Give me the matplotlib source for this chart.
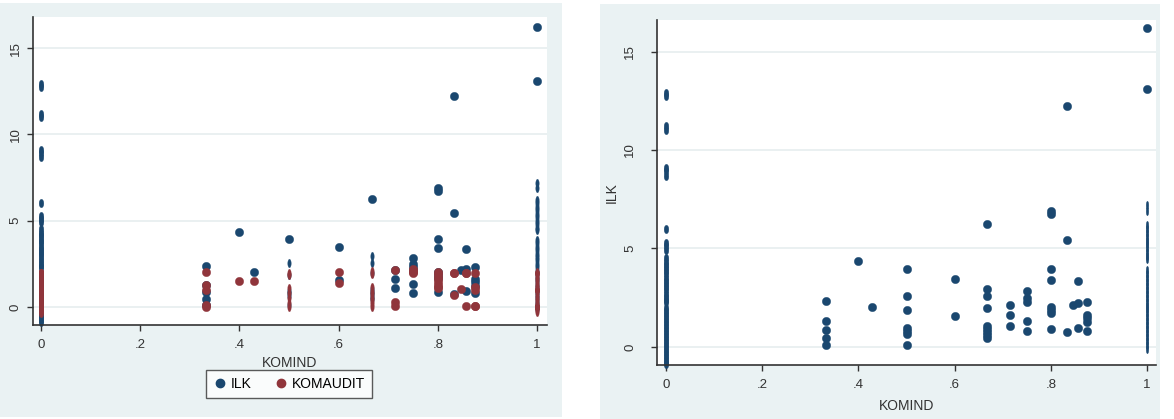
import numpy as np
import matplotlib
matplotlib.use("Agg")
import matplotlib.pyplot as plt
from matplotlib.path import Path
from matplotlib.transforms import Affine2D
from matplotlib.patches import Rectangle
from matplotlib.lines import Line2D

plt.rcParams["font.family"] = ["Liberation Sans", "DejaVu Sans"]
plt.rcParams["font.size"] = 10

# ILK values by KOMIND level
ILK = {
    0: [12.9, 12.75, 11.2, 11.0, 9.1, 8.95, 8.7, 6.0, 5.3, 5.1, 4.9, 4.5, 4.3, 4.15,
        4.0, 3.85, 3.7, 3.5, 3.35, 3.2, 3.05, 2.9, 2.7, 2.55, 2.4, 2.3, 1.95, 1.8,
        1.65, 1.5, 1.35, 1.2, 1.05, 0.9, 0.75, 0.6, 0.45, 0.3, 0.15, 0.0, -0.15,
        -0.3, -0.45, -0.6, -0.75, -0.85],
    1 / 3: [2.35, 1.29, 0.86, 0.47, 0.09],
    0.4: [4.34],
    3 / 7: [2.02],
    0.5: [3.97, 2.58, 1.87, 0.95, 0.8, 0.65, 0.12],
    0.6: [3.47, 1.58],
    2 / 3: [6.24, 2.93, 2.56, 1.98, 1.05, 0.9, 0.75, 0.6, 0.45],
    5 / 7: [2.13, 1.61, 1.08],
    0.75: [2.86, 2.47, 2.3, 1.32, 0.81],
    0.8: [6.9, 6.75, 3.97, 3.41, 2.05, 1.85, 1.7, 0.9],
    5 / 6: [12.24, 5.44, 0.78],
    11 / 13: [2.12],
    6 / 7: [3.34, 2.22, 0.95],
    7 / 8: [2.3, 1.63, 1.46, 1.24, 0.81],
    1: [16.2, 13.1, 7.2, 6.9, 6.2, 6.0, 5.8, 5.6, 5.4, 5.2, 5.0, 4.8, 4.6, 4.45,
        3.9, 3.7, 3.5, 3.3, 3.1, 2.9, 2.7, 2.5, 2.3, 2.1, 1.9, 1.7, 1.5, 1.3, 1.1,
        0.9, 0.7, 0.5, 0.3, 0.1, -0.1],
}

# KOMAUDIT values by KOMIND level
KOMAUDIT = {
    0: [2.0, 1.85, 1.7, 1.55, 1.4, 1.25, 1.1, 0.95, 0.8, 0.65, 0.5, 0.35, 0.2, 0.05,
        -0.1, -0.25, -0.35, 0.0, 0.0, 0.0, 0.0, 0.0, 1.0, 1.0, 1.0, 1.0, 0.0, 0.0,
        0.0, 0.0, 2.0, 2.0, 2.0, 0.0, 0.0, 1.0, 1.0, 0.0, 0.0, 0.0, 0.0, 0.0, 1.0,
        1.0, 0.0, 0.0],
    1 / 3: [2.05, 1.25, 1.0, 0.1, 0.0],
    0.4: [1.52],
    3 / 7: [1.52],
    0.5: [2.0, 1.85, 1.1, 0.8, 0.5, 0.25, 0.0],
    0.6: [2.04, 1.4],
    2 / 3: [2.1, 1.9, 1.15, 0.95, 0.75, 0.55, 0.35, 0.15, 0.0],
    5 / 7: [2.14, 0.3, 0.05],
    0.75: [2.2, 2.1, 2.05, 2.0, 2.15],
    0.8: [2.05, 1.9, 1.75, 1.6, 1.45, 1.3, 1.15, 1.08],
    5 / 6: [1.95, 0.69, 2.0],
    11 / 13: [1.02],
    6 / 7: [1.95, 0.06, 2.0],
    7 / 8: [0.06, 1.18, 1.0, 2.0, 0.05],
    1: [2.04, 1.9, 1.75, 1.6, 1.45, 1.3, 1.15, 1.0, 0.85, 0.7, 0.55, 0.4, 0.25, 0.1,
        -0.05, -0.2, -0.27, 0.0, 0.0, 1.0, 1.0, 2.0, 2.0, 0.0, 1.0, 0.0, 0.0, 1.0,
        2.0, 0.0, 0.0, 1.0, 0.0, 0.0, 0.0],
}

X_TICKS = [0, 0.2, 0.4, 0.6, 0.8, 1]
X_LABELS = ["0", ".2", ".4", ".6", ".8", "1"]
Y_TICKS = [0, 5, 10, 15]

BLUE = "#1a476f"
RED = "#90353b"
BG = "#eaf2f3"
GRID = "#e6edef"
MS = 6.0


def squeezed(ratio):
    return Path.unit_circle().transformed(Affine2D().scale(ratio, 1.0))


def flat(d):
    x = np.concatenate([np.full(len(v), k, dtype=float) for k, v in d.items()])
    y = np.concatenate([np.asarray(v, dtype=float) for v in d.values()])
    return x, y


def draw(ax, x, y, color, cols):
    # dense columns get squeezed markers, like the original rendering
    # cols: list of (komind level, upper y limit, width ratio)
    done = np.zeros(len(x), dtype=bool)
    for c, top, ratio in cols:
        m = np.isclose(x, c) & (y < top)
        ax.plot(x[m], y[m], ls="none", marker=squeezed(ratio), ms=MS, color=color,
                mew=0.3, clip_on=False)
        done |= m
    ax.plot(x[~done], y[~done], ls="none", marker="o", ms=MS, color=color,
            mec=color, mew=0.3, clip_on=False)


def style(ax, xlim, ylim, ypad):
    ax.set_xlim(*xlim)
    ax.set_ylim(*ylim)
    ax.set_xticks(X_TICKS)
    ax.set_xticklabels(X_LABELS)
    ax.set_yticks(Y_TICKS)
    ax.tick_params(axis="y", labelrotation=90, pad=ypad, length=4, width=1,
                   color="#333333", labelsize=9.5, labelcolor="#333333")
    ax.tick_params(axis="x", pad=6, length=4, width=1, color="#333333",
                   labelsize=9.5, labelcolor="#333333")
    for lab in ax.get_yticklabels():
        lab.set_va("center")
    ax.spines["top"].set_visible(False)
    ax.spines["right"].set_visible(False)
    for s in ("left", "bottom"):
        ax.spines[s].set_color("#333333")
        ax.spines[s].set_linewidth(1.2)
    ax.grid(axis="y", color=GRID, lw=1.2)
    ax.set_axisbelow(True)
    ax.set_facecolor("white")


W, H = 1174, 419
fig = plt.figure(figsize=(W / 100, H / 100), dpi=100)
fig.patch.set_facecolor("white")
fig.patches.append(Rectangle((0, 2 / H), 562 / W, 414 / H, transform=fig.transFigure,
                             facecolor=BG, edgecolor="none", zorder=-5))
fig.patches.append(Rectangle((600 / W, 0), 560 / W, 415 / H, transform=fig.transFigure,
                             facecolor=BG, edgecolor="none", zorder=-5))

ilk_x, ilk_y = flat(ILK)
aud_x, aud_y = flat(KOMAUDIT)

# left panel: ILK and KOMAUDIT
ax1 = fig.add_axes([33 / W, (H - 325) / H, 514 / W, 308 / H])
style(ax1, (-0.016, 1.02), (-1.04, 16.8), ypad=4)
left_cols = [(0, 99, 0.55), (0.5, 3.5, 0.4), (2 / 3, 3.5, 0.4), (1, 10, 0.4)]
draw(ax1, ilk_x, ilk_y, BLUE, left_cols)
draw(ax1, aud_x, aud_y, RED, left_cols)
ax1.set_xlabel("KOMIND", fontsize=10, color="#333333", labelpad=4)
handles = [Line2D([], [], ls="none", marker="o", ms=MS, color=BLUE),
           Line2D([], [], ls="none", marker="o", ms=MS, color=RED)]
leg = fig.legend(handles, ["ILK", "KOMAUDIT"], loc="center", ncol=2,
                 bbox_to_anchor=(289 / W, 1 - 384 / H), frameon=True,
                 fancybox=False, edgecolor="#333333", fontsize=10,
                 handletextpad=0.3, columnspacing=1.6, borderpad=0.5,
                 handlelength=1.0)
leg.get_frame().set_linewidth(1.0)

# right panel: ILK only
ax2 = fig.add_axes([657 / W, (H - 365) / H, 499 / W, 345 / H])
style(ax2, (-0.0187, 1.0187), (-0.92, 16.6), ypad=11)
draw(ax2, ilk_x, ilk_y, BLUE, [(0, 99, 0.55), (1, 10, 0.3)])
ax2.set_xlabel("KOMIND", fontsize=10, color="#333333", labelpad=6)
ax2.set_ylabel("ILK", fontsize=10, color="#333333", labelpad=4)

fig.savefig("out.png", dpi=100, facecolor=fig.get_facecolor())
